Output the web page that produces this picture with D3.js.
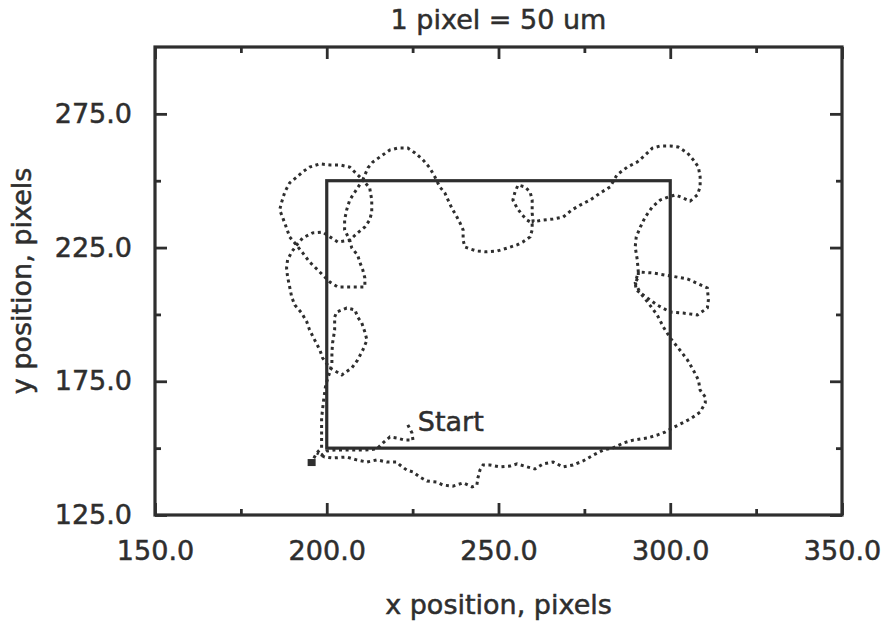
<!DOCTYPE html>
<html>
<head>
<meta charset="utf-8">
<script src="https://cdn.jsdelivr.net/npm/d3@7"></script>
<style>
  html, body { margin: 0; padding: 0; background: #fff; }
  svg { display: block; }
  text { font-family: 'DejaVu Sans', sans-serif; fill: #2e2e2e; stroke: #2e2e2e; stroke-width: 0.5px; }
</style>
</head>
<body>
<div id="chart"></div>
<script>
// tick values
const xTicks = [150, 200, 250, 300, 350];
const xMinorTicks = [175, 225, 275, 325];
const yTicks = [125, 175, 225, 275];
const yMinorTicks = [150, 200, 250];

// target square
const boxX = [200, 300];
const boxY = [150, 250];

// track in axis units in order
const startLeg = [
    [223.6, 158.7], [224.8, 155.7], [225.1, 153.0], [222.7, 153.0], [220.4, 153.8],
    [218.4, 154.2], [216.3, 151.9], [214.6, 149.7], [211.1, 149.3], [206.7, 149.3],
    [202.3, 149.3], [200.0, 148.9], [198.5, 147.4], [197.1, 148.2]
];
const bottomLeg = [
    [199.4, 146.7], [201.7, 146.3], [205.8, 146.7], [208.7, 145.6], [211.7, 144.8],
    [214.6, 145.6], [217.5, 144.8], [220.4, 144.8], [221.3, 143.7], [223.3, 141.8],
    [225.1, 141.1], [227.1, 139.2], [229.2, 137.7], [232.1, 137.3], [233.8, 136.2],
    [236.7, 135.8], [239.7, 137.0], [242.3, 135.5], [243.7, 136.2], [244.0, 138.8],
    [244.6, 141.8], [245.5, 143.7], [247.5, 143.7], [250.4, 143.0], [253.4, 143.3],
    [255.4, 144.1], [258.3, 143.0], [260.6, 142.2], [263.0, 144.1], [265.9, 144.8],
    [268.8, 143.0], [271.7, 143.7], [274.6, 145.2], [277.6, 147.4], [280.5, 149.3],
    [283.4, 150.1], [286.3, 151.9], [289.2, 153.0], [293.3, 153.8], [296.2, 154.9],
    [298.5, 156.0]
];
const rightLeg = [
    [300.6, 157.5], [302.9, 159.0], [305.8, 160.9], [308.7, 163.5], [310.2, 166.9],
    [310.2, 169.1], [308.7, 171.7], [308.2, 175.5], [306.7, 179.2], [305.0, 183.0],
    [302.3, 187.5], [300.0, 191.2], [298.0, 195.3], [296.2, 199.8], [293.6, 204.3],
    [291.3, 208.0], [293.3, 206.2], [296.2, 203.5], [300.0, 200.9], [303.8, 200.5],
    [307.9, 199.8], [310.8, 202.4], [311.1, 205.4], [310.8, 209.9], [308.2, 211.4],
    [305.0, 213.3], [300.0, 214.4], [295.0, 215.5], [290.7, 215.9], [290.7, 214.0],
    [289.8, 211.8], [290.1, 209.1], [291.3, 208.0], [289.8, 211.8], [290.7, 215.9],
    [290.4, 220.4], [289.8, 225.2], [290.1, 229.0]
];
const topRightLeg = [
    [291.3, 232.7], [292.7, 236.4], [294.8, 240.2], [297.1, 242.8], [299.4, 243.9],
    [301.5, 244.7], [303.8, 243.5], [305.8, 242.4], [307.9, 244.7], [308.7, 247.7],
    [308.7, 251.4], [308.2, 255.1], [306.7, 257.8], [305.0, 260.4], [302.3, 262.6],
    [300.0, 263.0], [297.1, 263.0], [294.8, 262.2], [292.7, 259.6], [290.4, 257.0],
    [287.5, 255.1], [284.5, 252.2], [282.5, 247.7], [279.6, 245.4], [276.7, 242.8],
    [273.8, 240.9], [271.4, 239.1], [268.8, 236.4], [265.9, 235.7], [263.0, 235.3],
    [260.1, 234.6]
];
const topLeg = [
    [259.8, 237.9], [259.8, 242.8], [259.2, 245.8], [257.7, 247.7], [255.7, 248.4],
    [254.8, 245.8], [254.2, 242.8], [255.4, 239.8], [256.9, 237.2], [258.3, 235.3],
    [259.8, 234.2], [259.8, 231.6], [259.2, 229.0], [257.1, 227.1], [255.4, 226.0],
    [252.5, 224.8], [249.6, 223.7], [246.6, 223.4], [243.7, 223.7], [241.7, 224.5],
    [240.2, 225.2], [239.7, 227.8], [239.7, 231.6], [238.8, 234.2], [237.9, 236.4],
    [236.4, 239.8], [235.3, 242.8], [234.4, 245.4], [232.9, 247.7], [231.5, 251.4],
    [230.0, 254.8], [228.0, 257.8], [225.7, 260.4], [223.6, 262.2], [220.7, 262.2],
    [218.4, 261.5], [215.5, 258.9], [213.4, 257.0], [212.0, 254.8], [211.1, 252.2],
    [210.5, 250.3]
];
const leftLeg = [
    [206.7, 255.1], [203.8, 255.9], [200.9, 255.9], [198.0, 256.3], [195.0, 255.1],
    [193.0, 253.3], [191.3, 251.4], [189.2, 249.2], [187.8, 245.8], [186.9, 242.1],
    [186.3, 239.1], [187.2, 236.1], [188.3, 232.3], [189.2, 229.0], [190.7, 226.7],
    [193.0, 223.0], [195.0, 219.6], [197.4, 216.6], [199.4, 214.0], [200.9, 212.1],
    [203.2, 210.3], [207.3, 210.3], [211.1, 210.3], [211.1, 213.6], [210.5, 216.6],
    [209.6, 219.6], [209.0, 222.2], [207.3, 224.8], [206.7, 227.8], [205.2, 231.6],
    [205.2, 235.3], [205.8, 239.1], [206.7, 242.8], [208.2, 245.8], [210.5, 250.3],
    [212.5, 247.3], [213.1, 242.8], [213.1, 238.3], [212.5, 235.3], [211.1, 232.7],
    [209.0, 230.5], [206.7, 227.8]
];
const endLeg = [
    [203.2, 227.1], [200.9, 229.0], [198.8, 230.8], [195.9, 230.5], [193.0, 228.6],
    [191.3, 226.0], [189.8, 223.4], [188.6, 220.4], [188.3, 217.4], [188.6, 214.0],
    [189.2, 210.3], [189.8, 206.5], [190.7, 203.5], [192.7, 200.5], [194.2, 197.2],
    [195.0, 194.2], [196.5, 190.4], [198.0, 186.7], [198.8, 183.7], [200.9, 180.0],
    [204.4, 177.4], [207.3, 180.0], [209.0, 183.0], [210.5, 186.7], [211.7, 190.4],
    [211.1, 193.4], [210.2, 196.8], [209.0, 199.0], [208.2, 201.7], [205.8, 202.4],
    [202.9, 200.9], [202.3, 199.0], [202.3, 194.2], [201.7, 189.3], [201.5, 185.6],
    [201.5, 181.8], [200.9, 178.5], [199.7, 173.6], [199.1, 168.0], [198.5, 161.3],
    [198.5, 156.8], [198.5, 153.0], [198.5, 150.1], [197.1, 148.2], [195.6, 144.8]
];

const track = [].concat(startLeg, bottomLeg, rightLeg, topRightLeg, topLeg, leftLeg, endLeg);

const width = 885;
const height = 626;
const margin = { top: 47, right: 43, bottom: 111, left: 155 };
const plotW = width - margin.left - margin.right;
const plotH = height - margin.top - margin.bottom;
const ink = '#2e2e2e';
const fontSize = '27px';

const svg = d3.select('#chart')
    .append('svg')
    .attr('width', width)
    .attr('height', height);

const g = svg.append('g')
    .attr('transform', `translate(${margin.left},${margin.top})`);

const x = d3.scaleLinear().domain([150, 350]).range([0, plotW]);
const y = d3.scaleLinear().domain([125, 300]).range([plotH, 0]);

const fmt = d3.format('.1f');

function styleAxis(sel) {
    sel.select('.domain').remove();
    sel.selectAll('line').attr('stroke', ink).attr('stroke-width', 2.8);
    sel.selectAll('text')
        .style('font-family', "'DejaVu Sans', sans-serif")
        .style('font-size', fontSize)
        .attr('fill', ink);
}

// bottom axis, major with labels
g.append('g')
    .attr('transform', `translate(0,${plotH})`)
    .call(d3.axisBottom(x).tickValues(xTicks).tickFormat(fmt).tickSizeInner(-12).tickSizeOuter(0).tickPadding(26))
    .call(styleAxis);
g.append('g')
    .attr('transform', `translate(0,${plotH})`)
    .call(d3.axisBottom(x).tickValues(xMinorTicks).tickFormat('').tickSizeInner(-6).tickSizeOuter(0))
    .call(styleAxis);

// top axis
g.append('g')
    .call(d3.axisTop(x).tickValues(xTicks).tickFormat('').tickSizeInner(-12).tickSizeOuter(0))
    .call(styleAxis);
g.append('g')
    .call(d3.axisTop(x).tickValues(xMinorTicks).tickFormat('').tickSizeInner(-6).tickSizeOuter(0))
    .call(styleAxis);

// left axis
g.append('g')
    .call(d3.axisLeft(y).tickValues(yTicks).tickFormat(fmt).tickSizeInner(-12).tickSizeOuter(0).tickPadding(23))
    .call(styleAxis);
g.append('g')
    .call(d3.axisLeft(y).tickValues(yMinorTicks).tickFormat('').tickSizeInner(-6).tickSizeOuter(0))
    .call(styleAxis);

// right axis
g.append('g')
    .attr('transform', `translate(${plotW},0)`)
    .call(d3.axisRight(y).tickValues(yTicks).tickFormat('').tickSizeInner(-12).tickSizeOuter(0))
    .call(styleAxis);
g.append('g')
    .attr('transform', `translate(${plotW},0)`)
    .call(d3.axisRight(y).tickValues(yMinorTicks).tickFormat('').tickSizeInner(-6).tickSizeOuter(0))
    .call(styleAxis);

// frame
g.append('rect')
    .attr('width', plotW)
    .attr('height', plotH)
    .attr('fill', 'none')
    .attr('stroke', ink)
    .attr('stroke-width', 3.2);

// target square
g.append('rect')
    .attr('x', x(boxX[0]))
    .attr('y', y(boxY[1]))
    .attr('width', x(boxX[1]) - x(boxX[0]))
    .attr('height', y(boxY[0]) - y(boxY[1]))
    .attr('fill', 'none')
    .attr('stroke', ink)
    .attr('stroke-width', 3.2);

// track as a dotted line
const line = d3.line()
    .x(d => x(d[0]))
    .y(d => y(d[1]));

g.append('path')
    .datum(track)
    .attr('d', line)
    .attr('fill', 'none')
    .attr('stroke', ink)
    .attr('stroke-width', 3)
    .attr('stroke-dasharray', '3 3.6');

// end marker
const last = track[track.length - 1];
g.append('rect')
    .attr('x', x(last[0]) - 4)
    .attr('y', y(last[1]) - 3)
    .attr('width', 8)
    .attr('height', 7)
    .attr('fill', ink);

// start label
const first = track[0];
g.append('text')
    .attr('x', x(first[0]) + 10)
    .attr('y', y(first[1]) + 6)
    .style('font-size', fontSize)
    .text('Start');

// titles
svg.append('text')
    .attr('x', margin.left + plotW / 2)
    .attr('y', 29)
    .attr('text-anchor', 'middle')
    .style('font-size', fontSize)
    .text('1 pixel = 50 um');

svg.append('text')
    .attr('x', margin.left + plotW / 2)
    .attr('y', 614)
    .attr('text-anchor', 'middle')
    .style('font-size', fontSize)
    .text('x position, pixels');

svg.append('text')
    .attr('transform', `translate(31,${margin.top + plotH / 2}) rotate(-90)`)
    .attr('text-anchor', 'middle')
    .style('font-size', fontSize)
    .text('y position, pixels');
</script>
</body>
</html>
